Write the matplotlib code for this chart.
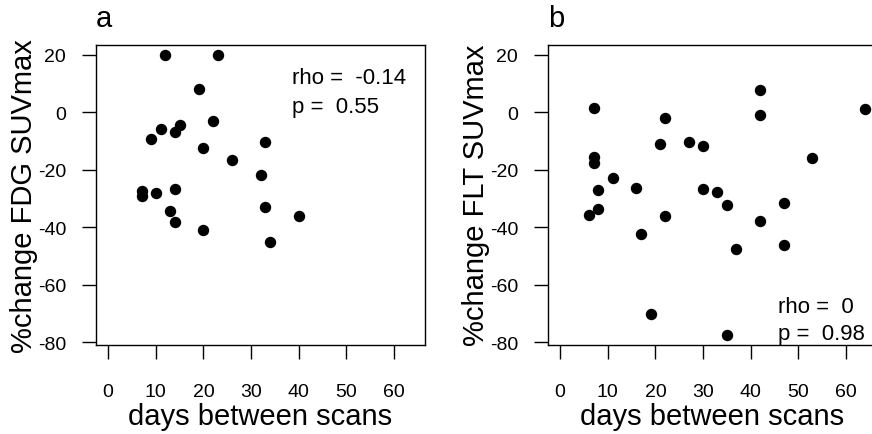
import matplotlib
matplotlib.use("Agg")
import matplotlib.pyplot as plt

plt.rcParams['font.family'] = ['Liberation Sans', 'DejaVu Sans']
plt.rcParams['axes.unicode_minus'] = False

# panel a: FDG
fdg_days = [12, 23, 19, 22, 15, 11, 14, 9, 33, 20, 26,
            32, 7, 7, 10, 14, 13, 14, 20, 33, 40, 34]
fdg_change = [20, 20, 8, -3, -4.5, -6, -7, -9.3, -10.5, -12.5, -16.5,
              -22, -27.5, -29.3, -28, -26.8, -34.3, -38.3, -41, -32.8, -36.2, -45]

# panel b: FLT
flt_days = [7, 22, 42, 42, 64, 21, 27, 30, 7, 7, 53, 11,
            8, 16, 30, 33, 6, 8, 22, 35, 47, 42, 17, 37, 47, 19, 35]
flt_change = [1.4, -2, 7.6, -0.9, 1, -11, -10.3, -11.7, -15.6, -17.5, -16, -23,
              -27, -26.2, -26.6, -27.8, -35.9, -33.5, -36, -32.3, -31.7, -37.7,
              -42.5, -47.5, -46, -70.2, -77.5]

panels = [
    ("a", fdg_days, fdg_change, "%change FDG SUVmax", ["rho =  -0.14", "p =  0.55"]),
    ("b", flt_days, flt_change, "%change FLT SUVmax", ["rho =  0", "p =  0.98"]),
]
xticks = [0, 10, 20, 30, 40, 50, 60]
yticks = [-80, -60, -40, -20, 0, 20]

W, H = 872, 435
fig = plt.figure(figsize=(W / 100, H / 100), dpi=100)

lefts = [96, 548]
top, bottom, width = 45.5, 346, 329
stat_pos = [[(0.596, 0.891), (0.596, 0.795)], [(0.699, 0.127), (0.699, 0.037)]]

for i, (tag, xs, ys, ylab, stats) in enumerate(panels):
    ax = fig.add_axes([lefts[i] / W, (H - bottom) / H, width / W, (bottom - top) / H])
    ax.plot(xs, ys, 'o', color='black', ms=7.2)
    ax.set_xlim(-2.56, 66.56)
    ax.set_ylim(-80.9, 23.5)
    ax.set_xticks(xticks)
    ax.set_yticks(yticks)
    ax.tick_params(direction='out', length=10, width=1, labelsize=14)
    ax.tick_params(axis='y', pad=11.5)
    ax.tick_params(axis='x', pad=17.5)
    for s in ax.spines.values():
        s.set_linewidth(1)
    ax.set_xlabel("days between scans", fontsize=21, labelpad=1)
    ax.set_ylabel(ylab, fontsize=21)
    ax.yaxis.set_label_coords(-0.176, 0.5)
    for (tx, ty), txt in zip(stat_pos[i], stats):
        ax.text(tx, ty, txt, transform=ax.transAxes, fontsize=16, va='center', ha='left')
    ax.text(0.0, 1.063, tag, transform=ax.transAxes, fontsize=21, va='baseline', ha='left')

fig.savefig("out.png", dpi=100)
